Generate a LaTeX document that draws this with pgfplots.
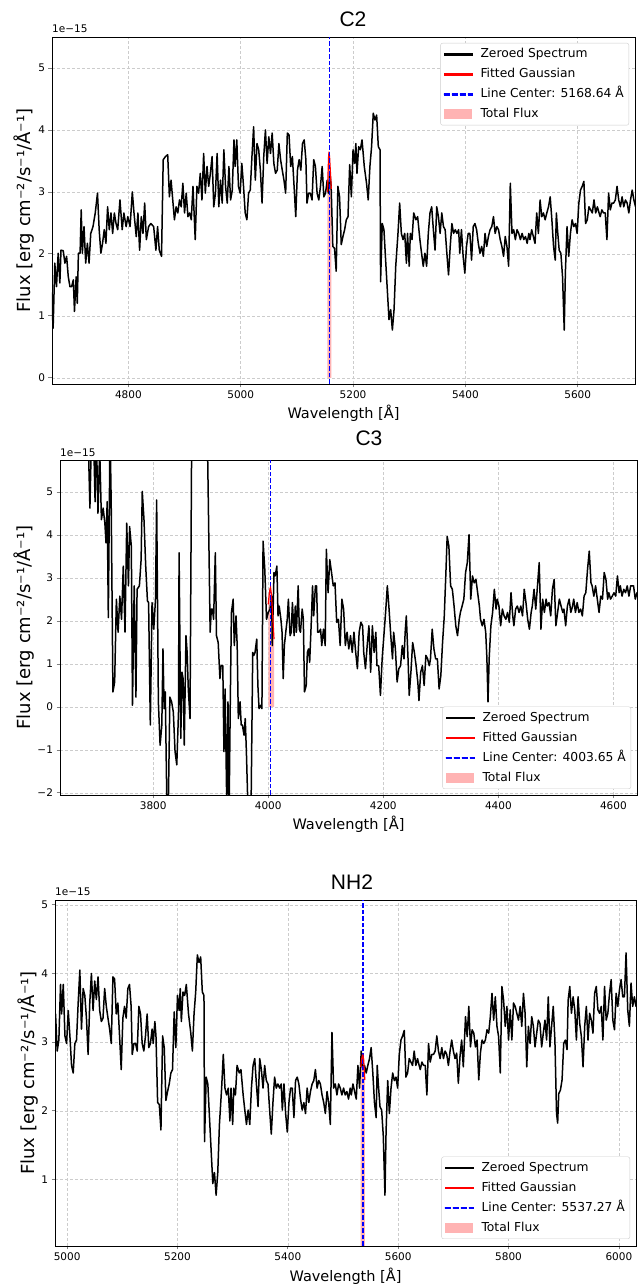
\documentclass[border=0pt]{standalone}
\usepackage{pgfplots}
\pgfplotsset{compat=1.18}
\usepackage{pgfplotstable}
\usepackage{fontspec}
\setmainfont{DejaVu Sans}
\newfontfamily\titlefont{Liberation Sans}
\definecolor{mypink}{RGB}{255,179,179}
\definecolor{myblue}{RGB}{0,0,255}
\definecolor{myred}{RGB}{255,0,0}

\pgfplotstableread{
x y
4660 1.30
4663 1.37
4666 0.80
4669 1.85
4672 1.47
4675 2.01
4678 1.53
4680 2.06
4684 2.05
4687 1.85
4690 1.96
4693 1.63
4696 1.47
4699 1.47
4702 1.58
4704 1.07
4707 1.63
4709 1.20
4711 2.01
4714 2.01
4716 2.71
4718 2.01
4721 2.44
4724 1.85
4727 2.17
4730 1.85
4733 2.33
4737 2.44
4741 2.66
4745 2.98
4748 2.39
4751 2.01
4754 2.17
4757 2.39
4760 2.17
4763 2.76
4766 2.39
4769 2.66
4772 2.33
4775 2.66
4778 2.49
4781 2.39
4785 2.87
4789 2.39
4792 2.66
4796 2.44
4799 2.60
4803 2.44
4807 3.00
4810 2.66
4814 2.28
4817 2.66
4820 2.06
4823 2.60
4826 2.33
4829 2.82
4832 2.23
4836 2.44
4840 2.49
4845 2.44
4849 2.06
4852 2.44
4855 2.06
4859 1.96
4862 3.52
4866 3.57
4870 3.60
4873 2.92
4876 3.19
4879 2.87
4882 2.55
4885 2.76
4888 2.66
4891 2.87
4894 2.76
4897 3.14
4900 2.66
4903 2.98
4906 2.60
4909 2.66
4912 2.55
4915 3.09
4919 2.23
4922 3.09
4925 2.98
4928 3.30
4931 2.87
4934 3.62
4937 2.98
4940 3.41
4943 3.09
4946 3.30
4949 3.57
4952 2.76
4955 2.98
4958 3.62
4961 2.76
4964 3.19
4967 2.82
4970 3.68
4973 3.09
4976 2.82
4979 3.41
4982 2.87
4985 3.03
4988 3.84
4990 3.41
4993 3.84
4996 3.09
4999 2.98
5002 3.46
5005 3.09
5008 2.66
5011 2.55
5014 2.98
5017 3.03
5020 3.57
5023 4.05
5026 3.19
5029 3.78
5032 3.68
5035 3.35
5038 2.82
5041 3.57
5044 4.00
5047 3.46
5050 3.89
5053 3.62
5056 3.95
5059 3.46
5062 3.30
5065 3.35
5068 3.78
5071 3.52
5074 3.35
5077 3.19
5080 2.98
5083 3.95
5086 3.92
5089 3.41
5092 3.57
5095 3.09
5098 2.60
5101 3.35
5104 3.52
5107 3.35
5110 3.78
5113 3.84
5116 3.52
5118 2.82
5121 2.98
5124 2.98
5127 2.87
5130 3.52
5133 3.41
5136 2.98
5139 2.87
5142 3.09
5145 3.41
5148 2.92
5151 2.98
5154 3.19
5156 2.98
5159 3.30
5161 3.09
5164 2.12
5167 2.09
5170 1.72
5173 3.09
5176 2.92
5179 2.15
5182 2.28
5185 2.39
5188 2.55
5191 2.60
5194 3.44
5197 2.92
5200 3.68
5203 3.46
5205 3.78
5207 3.30
5210 3.73
5213 3.68
5216 3.84
5220 3.41
5224 3.14
5227 2.87
5230 3.41
5233 3.73
5236 4.27
5239 4.16
5242 4.24
5245 3.73
5248 3.68
5249 1.55
5252 2.49
5255 2.39
5258 1.90
5261 1.42
5264 0.94
5267 1.10
5270 0.77
5273 1.10
5276 1.80
5280 2.33
5283 2.82
5286 2.33
5289 2.23
5292 2.33
5295 1.85
5297 2.33
5300 1.80
5302 2.33
5305 2.23
5308 2.66
5312 2.55
5315 2.60
5319 2.23
5322 2.01
5325 1.80
5328 2.01
5331 1.80
5334 2.33
5337 2.66
5340 2.76
5343 2.39
5346 2.06
5349 2.76
5352 2.60
5355 2.33
5358 2.66
5361 2.44
5364 2.39
5367 2.01
5370 1.66
5373 2.12
5376 2.49
5379 2.33
5382 2.39
5385 2.33
5388 2.39
5390 2.01
5393 2.39
5396 1.96
5399 1.69
5402 2.12
5405 2.33
5408 2.33
5411 1.90
5414 2.44
5417 2.49
5420 2.39
5423 2.17
5426 2.01
5429 2.12
5432 1.96
5435 2.33
5438 2.12
5441 2.28
5444 2.39
5447 2.44
5450 2.60
5453 2.33
5456 2.44
5459 2.39
5462 2.23
5465 2.12
5468 1.96
5471 2.28
5474 2.12
5477 1.80
5480 3.14
5483 2.33
5486 2.39
5489 2.23
5492 2.39
5495 2.33
5498 2.23
5501 2.33
5504 2.23
5507 2.28
5510 2.17
5513 2.33
5515 2.23
5518 2.39
5521 2.28
5524 2.17
5527 2.66
5530 2.33
5533 2.87
5536 2.60
5539 2.66
5542 2.55
5545 2.66
5548 2.76
5551 2.92
5554 2.55
5557 2.12
5560 1.90
5562 2.66
5564 2.39
5567 2.06
5570 2.01
5573 1.63
5576 0.77
5578 1.69
5581 2.44
5584 1.96
5587 2.33
5590 2.55
5593 2.44
5596 2.49
5599 2.33
5602 2.82
5605 3.03
5608 3.09
5611 3.17
5614 2.49
5617 2.55
5620 2.76
5623 2.71
5626 2.66
5629 2.87
5632 2.66
5635 2.76
5638 2.66
5640 2.60
5643 2.71
5646 2.66
5649 2.66
5652 2.23
5655 2.98
5658 2.71
5661 2.82
5664 2.82
5667 2.87
5670 3.09
5673 2.87
5676 2.76
5679 2.92
5682 2.76
5685 2.87
5688 2.82
5691 2.66
5694 2.87
5697 3.03
5700 2.87
5703 2.76
5706 2.84
5709 2.40
5712 2.79
5715 3.03
5718 2.64
5722 3.37
5725 3.08
5728 3.52
5731 2.93
5734 3.18
5737 3.13
5740 2.93
5743 3.03
5746 2.45
5749 2.84
5752 3.03
5755 2.98
5758 3.03
5761 3.18
5764 3.13
5767 3.37
5770 3.71
5773 3.32
5776 3.66
5779 3.23
5782 3.08
5785 2.55
5788 3.81
5791 3.61
5794 3.23
5797 3.52
5800 3.03
5803 3.47
5806 3.03
5809 3.57
5812 3.52
5815 3.42
5818 3.32
5821 3.52
5824 3.23
5827 3.71
5830 3.42
5833 2.64
5836 3.23
5839 2.98
5842 3.37
5845 3.23
5848 2.93
5851 3.13
5854 3.32
5857 3.27
5860 2.93
5863 3.13
5866 3.32
5869 3.03
5872 3.66
5875 2.93
5878 3.23
5881 3.52
5884 3.03
5887 1.96
5889 1.82
5891 2.25
5894 2.30
5897 2.45
5900 2.98
5903 3.03
5906 2.89
5908 3.61
5911 3.81
5914 3.42
5917 3.66
5920 3.47
5923 3.03
5926 3.66
5929 3.27
5932 3.08
5935 2.64
5938 3.23
5941 3.52
5944 3.03
5947 3.42
5950 3.32
5953 3.13
5956 3.71
5959 3.81
5962 3.47
5965 3.42
5968 3.52
5971 3.03
5974 3.81
5977 3.32
5980 3.42
5983 3.71
5986 3.91
5989 3.32
5992 3.18
5995 3.71
5998 3.52
6001 3.76
6004 3.91
6007 3.66
6010 3.66
6013 4.30
6016 3.47
6019 3.23
6022 3.86
6025 3.52
6028 3.66
6031 3.52
6034 3.60
}\specA

\pgfplotstableread{
x y
3630 7.5
3660 7.2
3686 6.8
3690 4.63
3693 6.5
3696 6.5
3699 4.78
3701 6.5
3704 4.51
3707 6.0
3710 4.36
3713 4.63
3716 4.28
3718 3.82
3720 4.78
3722 2.08
3725 6.5
3727 4.75
3730 0.35
3733 0.58
3736 2.51
3739 1.74
3742 2.58
3745 2.04
3748 3.28
3751 1.74
3754 4.28
3757 2.82
3759 4.20
3762 3.74
3764 0.04
3767 2.82
3770 0.23
3772 2.74
3776 2.82
3779 3.43
3781 5.02
3784 4.36
3787 3.28
3790 2.47
3792 2.43
3795 -0.42
3798 2.43
3801 1.81
3804 2.51
3806 4.82
3809 0.12
3812 -0.89
3815 -0.42
3817 1.35
3819 -0.04
3821 0.35
3824 -2.5
3826 -2.6
3829 0.23
3832 0.12
3835 -0.12
3838 -1.04
3841 -1.35
3844 -0.12
3845 3.59
3848 -0.73
3850 0.81
3852 0.66
3854 -0.89
3857 1.66
3859 1.27
3861 0.42
3864 -0.27
3867 6.5
3880 7.0
3894 6.5
3899 1.74
3901 2.28
3903 2.28
3905 2.04
3908 3.59
3910 1.66
3913 1.50
3916 0.66
3918 0.96
3921 0.96
3923 -1.04
3925 0.42
3928 -2.4
3930 0.12
3932 -2.4
3934 0.12
3936 2.20
3939 2.51
3941 1.43
3944 2.12
3946 1.43
3948 -0.27
3951 0.12
3953 -0.42
3955 -0.42
3958 -0.66
3960 -0.27
3962 -1.04
3965 -2.5
3968 -2.6
3970 -2.5
3973 1.27
3975 1.20
3977 1.27
3980 1.58
3982 0.50
3984 -0.04
3987 0.04
3989 -0.04
3991 3.86
3994 3.20
3997 2.04
4000 2.20
4003 2.28
4006 2.58
4007 1.43
4010 3.13
4012 3.05
4015 3.28
4017 2.12
4019 2.35
4022 2.04
4024 1.74
4026 0.66
4028 1.43
4031 1.81
4033 2.04
4035 2.51
4038 1.66
4040 1.74
4042 2.43
4045 1.66
4047 2.35
4049 1.74
4052 2.82
4054 1.81
4056 1.74
4059 2.28
4061 2.04
4063 0.35
4066 0.50
4068 1.27
4070 1.35
4072 1.04
4075 2.04
4077 2.82
4079 2.12
4082 2.82
4084 2.82
4086 1.74
4088 1.74
4091 1.81
4093 1.43
4096 1.81
4099 1.43
4101 3.67
4104 2.66
4107 3.43
4110 3.13
4113 2.82
4116 2.89
4119 1.97
4122 2.04
4125 1.43
4128 2.51
4131 2.28
4134 1.43
4137 1.74
4140 1.35
4143 1.66
4146 1.27
4149 1.74
4152 1.27
4155 0.89
4158 1.74
4161 1.97
4164 1.89
4166 1.27
4169 0.89
4172 1.43
4175 1.89
4178 0.81
4181 1.89
4184 1.27
4187 1.74
4189 0.96
4192 0.96
4195 0.27
4198 1.12
4201 1.66
4204 2.20
4207 2.82
4210 2.28
4213 1.66
4216 1.12
4218 1.74
4221 1.35
4224 0.58
4227 0.89
4230 0.96
4233 1.43
4236 1.12
4238 1.74
4240 2.12
4243 1.12
4245 0.27
4248 0.81
4251 1.50
4254 1.27
4257 0.96
4260 0.58
4262 0.15
4265 0.81
4268 0.96
4271 0.50
4274 1.20
4277 1.12
4280 0.96
4282 1.12
4285 1.81
4288 1.35
4291 1.12
4294 1.12
4297 0.42
4300 0.73
4303 1.50
4306 2.12
4309 3.20
4311 3.97
4314 3.74
4317 2.82
4320 2.74
4323 2.35
4326 1.89
4329 1.66
4332 2.04
4334 2.20
4337 2.35
4340 2.51
4343 3.13
4346 3.36
4349 4.01
4352 2.51
4355 3.05
4358 2.89
4361 2.97
4364 2.66
4367 2.35
4369 2.04
4372 1.89
4375 2.04
4378 1.74
4380 1.16
4382 0.12
4384 1.12
4387 1.89
4390 2.20
4393 2.74
4396 2.28
4398 2.51
4401 2.35
4404 1.89
4407 2.28
4410 2.12
4413 2.04
4416 2.20
4419 1.97
4422 2.66
4425 2.12
4427 1.89
4430 2.28
4433 2.35
4436 2.20
4439 2.35
4442 2.12
4445 2.74
4448 2.43
4451 2.04
4454 1.81
4457 2.20
4459 2.35
4462 2.74
4465 2.28
4468 2.82
4471 3.36
4474 1.81
4477 2.51
4480 2.20
4483 2.51
4485 2.35
4488 2.43
4491 2.12
4494 2.74
4497 2.97
4500 1.89
4503 2.20
4506 2.51
4509 2.35
4512 2.20
4514 2.28
4517 1.89
4520 2.35
4523 2.51
4526 2.20
4529 2.35
4531 2.51
4534 2.20
4537 2.43
4540 2.20
4543 2.28
4546 2.12
4549 2.58
4552 2.66
4555 3.20
4558 3.63
4561 2.89
4563 2.82
4566 2.58
4569 2.82
4572 2.51
4575 2.20
4578 2.58
4581 2.51
4584 3.13
4587 2.97
4590 2.51
4592 2.66
4595 2.51
4598 2.58
4601 2.66
4604 2.58
4607 3.05
4610 2.66
4612 2.82
4615 2.58
4618 2.74
4621 2.66
4624 2.82
4627 2.58
4630 2.82
4633 2.82
4635 2.82
4638 2.51
4641 2.66
4644 2.60
}\specB

\pgfplotsset{
  specaxis/.style={
    scale only axis,
    anchor=south west,
    clip mode=individual,
    axis line style={line width=0.8pt},
    tick style={line width=0.8pt},
    tick align=outside,
    major tick length=3.5pt,
    tick pos=left,
    scaled ticks=false,
    tick label style={font=\fontsize{10.5}{12}\selectfont},
    every axis x label/.style={at={(rel axis cs:0.5,0)}, anchor=base, yshift=-35pt,
      font=\fontsize{14.5}{17}\selectfont},
    every axis y label/.style={at={(rel axis cs:0,0.5)}, rotate=90, anchor=base,
      font=\fontsize{18}{21}\selectfont},
    xlabel={Wavelength [Å]},
    ylabel={Flux [erg cm⁻²/s⁻¹/Å⁻¹]},
    grid=major,
    major grid style={black!20, line width=0.5pt, dash pattern=on 3pt off 2pt},
    legend cell align=left,
    legend style={font=\fontsize{12.3}{14}\selectfont, draw=black!20, fill=white,
      rounded corners=2pt, inner xsep=3pt, inner ysep=3pt, row sep=4pt, column sep=6.5pt,
      nodes={inner sep=2pt, text height=9.5pt, text depth=2.5pt}},
  },
  mySpec/.style={color=black, line width=1.5pt, line join=round},
  myGauss/.style={color=myred, line width=1.2pt},
  myVline/.style={color=myblue, line width=1.6pt, dash pattern=on 4.5pt off 2pt},
  myFill/.style={draw=none, fill=mypink},
}

\newcommand{\speclegend}[1]{%
  \addlegendimage{legend image code/.code={\fill[black, sharp corners] (0pt,-0.75pt) rectangle (28pt,0.75pt);}}
  \addlegendentry{Zeroed Spectrum}
  \addlegendimage{legend image code/.code={\fill[myred, sharp corners] (0pt,-0.6pt) rectangle (28pt,0.6pt);}}
  \addlegendentry{Fitted Gaussian}
  \addlegendimage{legend image code/.code={\fill[myblue, sharp corners] (0pt,-0.7pt) rectangle (5pt,0.7pt) (8pt,-0.7pt) rectangle (13pt,0.7pt) (16pt,-0.7pt) rectangle (21pt,0.7pt) (24pt,-0.7pt) rectangle (28pt,0.7pt);}}
  \addlegendentry{Line Center: #1 Å}
  \addlegendimage{legend image code/.code={\fill[mypink, sharp corners] (0pt,-4.5pt) rectangle (27pt,4.5pt);}}
  \addlegendentry{Total Flux}
}

\begin{document}
\begin{tikzpicture}[x=1pt,y=1pt]
\path[use as bounding box] (0,0) rectangle (644,1286);

% ---------------- C2 ----------------
\begin{axis}[specaxis, at={(52pt,902pt)}, width=583pt, height=347pt,
  xmin=4664, xmax=5702, ymin=-0.1, ymax=5.5,
  xtick={4800,5000,5200,5400,5600}, xticklabels={4800,5000,5200,5400,5600},
  ytick={0,1,2,3,4,5}, yticklabels={0,1,2,3,4,5},
  ylabel style={yshift=21pt},
  legend style={at={(1,1)}, anchor=north east, xshift=-6pt, yshift=-6pt}]
\addplot[myFill, forget plot] table {
5154.5 3.00
5155.5 3.30
5156.5 3.58
5157.3 3.65
5158.3 3.55
5159.8 3.30
5161.3 3.05
} \closedcycle;
\addplot[mySpec, forget plot] table[x=x,y=y] {\specA};
\addplot[myGauss, forget plot] table {
5154.5 3.00
5155.5 3.30
5156.5 3.58
5157.3 3.65
5158.3 3.55
5159.8 3.30
5161.3 3.05
};
\addplot[myVline, forget plot] coordinates {(5158.3,-0.1) (5158.3,5.5)};
\speclegend{5168.64}
\node[anchor=base west, yshift=4pt, inner sep=0pt, font=\fontsize{10.5}{12}\selectfont] at (rel axis cs:0,1) {1e−15};
\end{axis}

% ---------------- C3 ----------------
\begin{axis}[specaxis, at={(60pt,491pt)}, width=577pt, height=335pt,
  xmin=3638, xmax=4641, ymin=-2.05, ymax=5.75,
  xtick={3800,4000,4200,4400,4600}, xticklabels={3800,4000,4200,4400,4600},
  ytick={-2,-1,0,1,2,3,4,5}, yticklabels={−2,−1,0,1,2,3,4,5},
  ylabel style={yshift=29pt},
  legend style={at={(1,0)}, anchor=south east, xshift=-6pt, yshift=6pt}]
\addplot[myFill, forget plot] table {
4000.0 2.39
4001.5 2.60
4003.0 2.75
4004.0 2.78
4005.5 2.62
4007.0 2.30
4008.5 1.95
4010.0 1.58
} \closedcycle;
\addplot[mySpec, forget plot] table[x=x,y=y] {\specB};
\addplot[myVline, forget plot] coordinates {(4003.65,-2.05) (4003.65,5.75)};
\addplot[myGauss, forget plot] table {
4000.0 2.39
4001.5 2.60
4003.0 2.75
4004.0 2.78
4005.5 2.62
4007.0 2.30
4008.5 1.95
4010.0 1.58
};
\speclegend{4003.65}
\node[anchor=base west, yshift=4pt, inner sep=0pt, font=\fontsize{10.5}{12}\selectfont] at (rel axis cs:0,1) {1e−15};
\end{axis}

% ---------------- NH2 ----------------
\begin{axis}[specaxis, at={(55pt,40pt)}, width=581pt, height=346pt,
  xmin=4978, xmax=6031, ymin=0.03, ymax=5.07,
  xtick={5000,5200,5400,5600,5800,6000}, xticklabels={5000,5200,5400,5600,5800,6000},
  ytick={1,2,3,4,5}, yticklabels={1,2,3,4,5},
  ylabel style={yshift=21pt},
  legend style={at={(1,0)}, anchor=south east, xshift=-6pt, yshift=7pt}]
\addplot[myFill, forget plot] table {
5532.0 2.64
5533.5 2.74
5535.0 2.80
5536.0 2.81
5537.5 2.74
5539.5 2.45
} \closedcycle;
\addplot[mySpec, forget plot] table[x=x,y=y] {\specA};
\addplot[myVline, forget plot] coordinates {(5536,0.03) (5536,5.07)};
\addplot[myGauss, forget plot] table {
5532.0 2.64
5533.5 2.74
5535.0 2.80
5536.0 2.81
5537.5 2.74
5539.5 2.45
};
\speclegend{5537.27}
\node[anchor=base west, yshift=4pt, inner sep=0pt, font=\fontsize{10.5}{12}\selectfont] at (rel axis cs:0,1) {1e−15};
\end{axis}

\node[anchor=base, font=\titlefont\fontsize{21}{24}\selectfont] at (353,1259) {C2};
\node[anchor=base, font=\titlefont\fontsize{21}{24}\selectfont] at (369,840) {C3};
\node[anchor=base, font=\titlefont\fontsize{21}{24}\selectfont] at (352,396) {NH2};
\end{tikzpicture}
\end{document}
